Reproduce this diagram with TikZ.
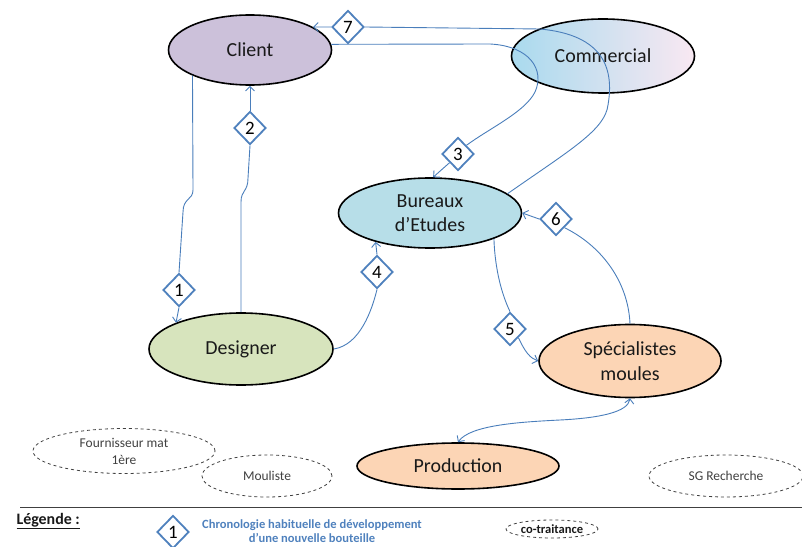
\documentclass[tikz,border=0pt]{standalone}
\usepackage{fontspec}
\setmainfont{Carlito}
\usepackage{xcolor}
\usetikzlibrary{shapes.geometric, arrows.meta}

\definecolor{lienbleu}{HTML}{4A7EBB}
\definecolor{losangebleu}{HTML}{4F81BD}
\definecolor{clientfond}{HTML}{CCC1DA}
\definecolor{bureauxfond}{HTML}{B7DEE8}
\definecolor{designerfond}{HTML}{D7E4BD}
\definecolor{pechefond}{HTML}{FCD5B5}
\definecolor{commgauche}{HTML}{A9DAEE}
\definecolor{commmilieu}{HTML}{8CBDE6}
\definecolor{commdroite}{HTML}{F9E8F2}
\definecolor{gristrait}{HTML}{404040}

\begin{document}
\begin{tikzpicture}[x=1bp, y=-1bp,
  entite/.style={ellipse, draw=black, line width=1.6bp, inner sep=0pt, align=center,
    text=black!90, font=\fontsize{20}{24.5}\selectfont},
  partenaire/.style={ellipse, draw=gristrait, dashed, line width=0.8bp, inner sep=0pt,
    align=center, text=gristrait, font=\fontsize{13.5}{17}\selectfont},
  etape/.style={diamond, draw=losangebleu, line width=1.8bp, fill=white, inner sep=0pt,
    minimum width=32bp, minimum height=33bp, font=\fontsize{19}{19}\selectfont},
  lien/.style={draw=lienbleu, line width=0.9bp},
  fleche/.style={lien, -{Straight Barb[length=4.5bp,width=9bp]}},
  doublefleche/.style={lien, {Straight Barb[length=4.5bp,width=9bp]}-{Straight Barb[length=4.5bp,width=9bp]}}]
  \useasboundingbox (0,0) rectangle (802,547);

  % Acteurs principaux
  \node[entite, fill=clientfond, minimum width=163bp, minimum height=70bp] (client) at (250,50) {Client};
  \node[entite, left color=commgauche, middle color=commmilieu, right color=commdroite,
    minimum width=183bp, minimum height=74bp] (commercial) at (603,56) {Commercial};
  \node[entite, fill=bureauxfond, minimum width=183bp, minimum height=70bp] (bureaux) at (430,213) {Bureaux\\d’Etudes};
  \node[entite, fill=designerfond, minimum width=184bp, minimum height=72bp] (designer) at (241,349) {Designer};
  \node[entite, fill=pechefond, minimum width=182bp, minimum height=73bp] (specialistes) at (630,361) {Spécialistes\\moules};
  \node[entite, fill=pechefond, minimum width=202bp, minimum height=46bp] (production) at (458,466) {Production};

  % Co-traitants (pointillés)
  \node[partenaire, minimum width=182bp, minimum height=45bp] (fournisseur) at (124,451) {Fournisseur mat\\1ère};
  \node[partenaire, minimum width=130bp, minimum height=42bp] (mouliste) at (267,476) {Mouliste};
  \node[partenaire, minimum width=154bp, minimum height=42bp] (sgrecherche) at (726,476) {SG Recherche};

  % Etapes numérotées
  \node[etape] (e1) at (179,290) {1};
  \node[etape] (e2) at (250,128) {2};
  \node[etape] (e3) at (458,154) {3};
  \node[etape] (e4) at (377,272) {4};
  \node[etape] (e5) at (510,329) {5};
  \node[etape] (e6) at (556,219) {6};
  \node[etape] (e7) at (348,27) {7};

  % 1 : Client -> Designer
  \draw[lien] (client.204) -- (193,190) .. controls (193,200) and (183,198) .. (183,212) -- (e1.north);
  \draw[fleche] (e1.south) -- (designer.158);

  % 2 : Designer -> Client
  \draw[lien] (designer.north) -- (241,202) .. controls (241,190) and (248,192) .. (248,178) -- (e2.south);
  \draw[fleche] (e2.north) -- (client.south);

  % 3 : Client -> Bureaux d'Etudes
  \draw[lien] (client.4) -- (490,44) .. controls (530,46) and (545,70) .. (535,92)
    .. controls (525,112) and (490,128) .. (e3.north east);
  \draw[fleche] (e3.south west) -- (bureaux.85);

  % 4 : Designer -> Bureaux d'Etudes
  \draw[lien] (designer.east) .. controls (360,345) and (372,310) .. (e4.south);
  \draw[fleche] (e4.north) -- (bureaux.208);

  % 5 : Bureaux d'Etudes -> Spécialistes moules
  \draw[lien] (bureaux.338) .. controls (495,270) and (502,295) .. (e5.north);
  \draw[fleche] (e5.south east) .. controls (525,352) and (530,358) .. (specialistes.west);

  % 6 : Spécialistes moules -> Bureaux d'Etudes
  \draw[lien] (specialistes.north) .. controls (628,280) and (600,245) .. (e6.south east);
  \draw[fleche] (e6.west) -- (bureaux.east);

  % 7 : Bureaux d'Etudes -> Client
  \draw[lien] (bureaux.14) .. controls (570,150) and (605,130) .. (608,105)
    .. controls (614,70) and (605,35) .. (540,29) -- (e7.east);
  \draw[fleche] (e7.west) -- (client.20);

  % Production <-> Spécialistes moules
  \draw[doublefleche] (production.north) .. controls (470,425) and (520,422) .. (560,420)
    .. controls (600,418) and (628,412) .. (specialistes.south);

  % Légende
  \draw[gristrait, line width=0.8bp] (20,507) -- (802,507);
  \node[anchor=west, font=\fontsize{16}{16}\selectfont\bfseries, text=black!90] (legende) at (13,521) {\underline{Légende :}};
  \node[etape] (legendeetape) at (173,532) {1};
  \node[align=center, text=losangebleu, font=\fontsize{12.6}{14.5}\selectfont\bfseries] (legendetexte) at (312,531)
    {Chronologie habituelle de développement\\d’une nouvelle bouteille};
  \node[partenaire, text=black!90, font=\fontsize{12.6}{12.6}\selectfont\bfseries,
    minimum width=92bp, minimum height=18bp] (cotraitance) at (552,529) {co-traitance};
\end{tikzpicture}
\end{document}
